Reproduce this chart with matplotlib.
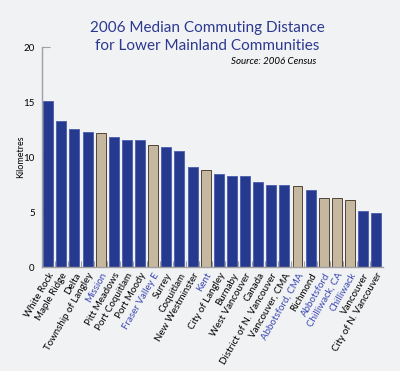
import matplotlib.pyplot as plt

plt.rcParams['font.family'] = ['Lato', 'DejaVu Sans']

communities = [
    "White Rock", "Maple Ridge", "Delta", "Township of Langley", "Mission",
    "Pitt Meadows", "Port Coquitlam", "Port Moody", "Fraser Valley E", "Surrey",
    "Coquitlam", "New Westminster", "Kent", "City of Langley", "Burnaby",
    "West Vancouver", "Canada", "District of N. Vancouver", "Vancouver, CMA",
    "Abbotsford, CMA", "Richmond", "Abbotsford", "Chilliwack, CA", "Chilliwack",
    "Vancouver", "City of N. Vancouver",
]
distance_km = [
    15.1, 13.3, 12.6, 12.3, 12.2,
    11.8, 11.6, 11.6, 11.1, 10.9,
    10.6, 9.1, 8.8, 8.5, 8.3,
    8.3, 7.7, 7.5, 7.5,
    7.4, 7.0, 6.3, 6.3, 6.1,
    5.1, 4.9,
]
# communities outside the Vancouver CMA (tan bars, blue labels)
outside_cma = [
    "Mission", "Fraser Valley E", "Kent", "Abbotsford, CMA",
    "Abbotsford", "Chilliwack, CA", "Chilliwack",
]
y_ticks = [0, 5, 10, 15, 20]

BG = "#f1f2f4"
BLUE = "#253a8e"
TAN = "#c6b89e"
TITLE_BLUE = "#2b3990"
LABEL_BLUE = "#3a47b0"
AXIS_GRAY = "#a0a0a0"

fig = plt.figure(figsize=(4.0, 3.71), dpi=100, facecolor=BG)
ax = fig.add_axes([0.104, 0.28, 0.853, 0.593], facecolor=BG)

x = list(range(len(communities)))
colors = [TAN if c in outside_cma else BLUE for c in communities]
edges = ["#3b2e22" if c in outside_cma else "#4a5cb0" for c in communities]
ax.bar(x, distance_km, width=0.76, color=colors, edgecolor=edges, linewidth=0.6, zorder=2)

ax.set_xlim(-0.5, len(communities) - 0.5)
ax.set_ylim(0, 20)
ax.set_yticks(y_ticks)
ax.set_yticklabels([str(t) for t in y_ticks], fontsize=7)
ax.tick_params(axis="y", direction="in", length=6, width=0.8, color=AXIS_GRAY, pad=5)

# small ticks between bars on the x axis
ax.set_xticks([i + 0.5 for i in x[:-1]], minor=True)
ax.tick_params(axis="x", which="minor", direction="in", length=4, width=0.8, color=AXIS_GRAY)
ax.set_xticks(x)
ax.set_xticklabels(communities, rotation=60, ha="right", rotation_mode="anchor", fontsize=7)
ax.tick_params(axis="x", which="major", length=0, pad=3)
for lbl, c in zip(ax.get_xticklabels(), communities):
    if c in outside_cma:
        lbl.set_color(LABEL_BLUE)

for s in ["top", "right"]:
    ax.spines[s].set_visible(False)
for s in ["left", "bottom"]:
    ax.spines[s].set_color(AXIS_GRAY)
    ax.spines[s].set_linewidth(1.0)

ax.set_ylabel("Kilometres", fontsize=6.5, labelpad=-1)

fig.text(0.518, 0.9, "2006 Median Commuting Distance\nfor Lower Mainland Communities",
         ha="center", va="center", fontsize=11, color=TITLE_BLUE, linespacing=1.35)
fig.text(0.79, 0.833, "Source: 2006 Census", ha="right", va="center",
         fontsize=7, style="italic", color="black")

fig.savefig("out.png", dpi=100, facecolor=BG)
